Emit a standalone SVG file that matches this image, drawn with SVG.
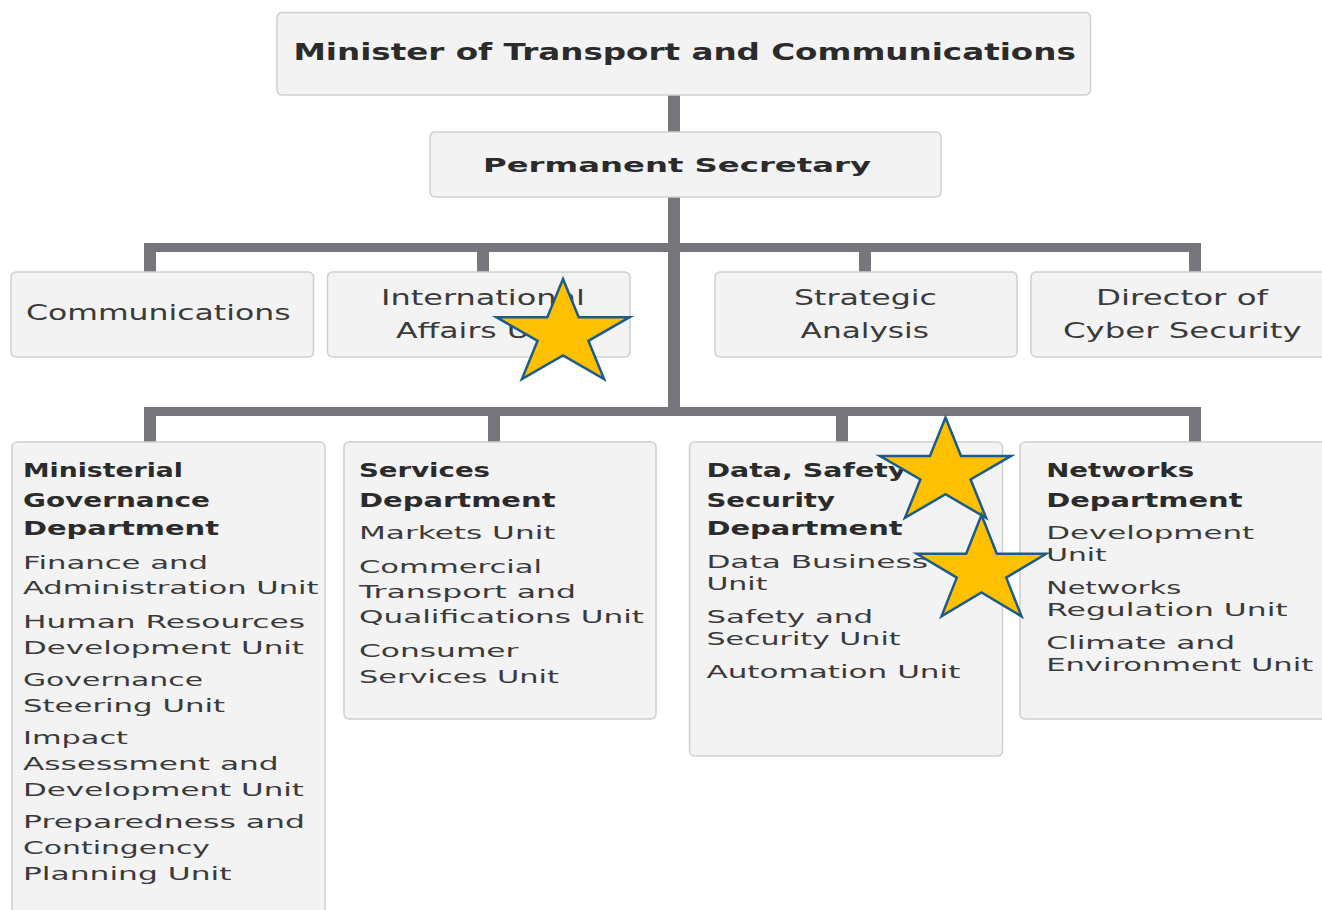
<svg xmlns="http://www.w3.org/2000/svg" width="1322" height="910" viewBox="0 0 1322 910">
<style>
.box{fill:#f3f3f3;stroke:#cfcfcf;stroke-width:1.5}
.con{fill:#76767c}
.t{font-family:"DejaVu Sans",Verdana,sans-serif;fill:#3a3a3a}
.b{font-weight:bold;fill:#2b2b2b}
.h1{font-size:23px}
.h2{font-size:20px}
.top{font-size:21px}
.r{font-size:17.5px}
.bb{font-size:19px}
.star{fill:#ffc000;stroke:#1d5c88;stroke-width:2.5;stroke-linejoin:miter}
</style>
<rect width="1322" height="910" fill="#ffffff"/>
<g id="connectors">
<rect class="con" x="668" y="95" width="12" height="37"/>
<rect class="con" x="668" y="197" width="12" height="219"/>
<rect class="con" x="144" y="243" width="1057" height="9"/>
<rect class="con" x="144" y="243" width="12" height="29"/>
<rect class="con" x="477" y="243" width="12" height="29"/>
<rect class="con" x="859" y="243" width="12" height="29"/>
<rect class="con" x="1189" y="243" width="12" height="29"/>
<rect class="con" x="144" y="407" width="1057" height="9"/>
<rect class="con" x="144" y="407" width="12" height="35"/>
<rect class="con" x="488" y="407" width="12" height="35"/>
<rect class="con" x="836" y="407" width="12" height="35"/>
<rect class="con" x="1189" y="407" width="12" height="35"/>
</g>
<g id="minister">
<rect class="box" x="277" y="12.5" width="813.5" height="82.5" rx="5"/>
<text class="t b h1" x="293.4" y="60" textLength="782.4" lengthAdjust="spacingAndGlyphs">Minister of Transport and Communications</text>
</g>
<g id="permanent-secretary">
<rect class="box" x="430" y="132" width="511" height="65" rx="5"/>
<text class="t b h2" x="483" y="172" textLength="388" lengthAdjust="spacingAndGlyphs">Permanent Secretary</text>
</g>
<g id="communications">
<rect class="box" x="11" y="272" width="302.5" height="85" rx="5"/>
<text class="t top" x="26" y="320" textLength="264.6" lengthAdjust="spacingAndGlyphs">Communications</text>
</g>
<g id="international-affairs">
<rect class="box" x="327.5" y="272" width="302.5" height="85" rx="5"/>
<text class="t top" x="381" y="305" textLength="204" lengthAdjust="spacingAndGlyphs">International</text>
<text class="t top" x="396" y="338" textLength="175" lengthAdjust="spacingAndGlyphs">Affairs Unit</text>
</g>
<g id="strategic-analysis">
<rect class="box" x="715" y="272" width="302" height="85" rx="5"/>
<text class="t top" x="794" y="305" textLength="143" lengthAdjust="spacingAndGlyphs">Strategic</text>
<text class="t top" x="800.6" y="338" textLength="128.4" lengthAdjust="spacingAndGlyphs">Analysis</text>
</g>
<g id="cyber-security">
<rect class="box" x="1031" y="272" width="302" height="85" rx="5"/>
<text class="t top" x="1096" y="305" textLength="172" lengthAdjust="spacingAndGlyphs">Director of</text>
<text class="t top" x="1063" y="338" textLength="238.6" lengthAdjust="spacingAndGlyphs">Cyber Security</text>
</g>
<g id="ministerial-governance">
<rect class="box" x="12" y="442" width="313" height="500" rx="5"/>
<text class="t b bb" x="23" y="477" textLength="160" lengthAdjust="spacingAndGlyphs">Ministerial</text>
<text class="t b bb" x="23" y="507" textLength="187" lengthAdjust="spacingAndGlyphs">Governance</text>
<text class="t b bb" x="23" y="535" textLength="196" lengthAdjust="spacingAndGlyphs">Department</text>
<text class="t r" x="23" y="568.5" textLength="185" lengthAdjust="spacingAndGlyphs">Finance and</text>
<text class="t r" x="23" y="594" textLength="295.6" lengthAdjust="spacingAndGlyphs">Administration Unit</text>
<text class="t r" x="23" y="628" textLength="282" lengthAdjust="spacingAndGlyphs">Human Resources</text>
<text class="t r" x="23" y="653.5" textLength="281" lengthAdjust="spacingAndGlyphs">Development Unit</text>
<text class="t r" x="23" y="686" textLength="180" lengthAdjust="spacingAndGlyphs">Governance</text>
<text class="t r" x="23" y="712" textLength="202" lengthAdjust="spacingAndGlyphs">Steering Unit</text>
<text class="t r" x="23" y="744" textLength="105" lengthAdjust="spacingAndGlyphs">Impact</text>
<text class="t r" x="23" y="770" textLength="255.6" lengthAdjust="spacingAndGlyphs">Assessment and</text>
<text class="t r" x="23" y="796" textLength="281" lengthAdjust="spacingAndGlyphs">Development Unit</text>
<text class="t r" x="23" y="828" textLength="282" lengthAdjust="spacingAndGlyphs">Preparedness and</text>
<text class="t r" x="23" y="854" textLength="187" lengthAdjust="spacingAndGlyphs">Contingency</text>
<text class="t r" x="23" y="880" textLength="208.5" lengthAdjust="spacingAndGlyphs">Planning Unit</text>
</g>
<g id="services">
<rect class="box" x="344" y="442" width="312" height="277" rx="5"/>
<text class="t b bb" x="359" y="477" textLength="131" lengthAdjust="spacingAndGlyphs">Services</text>
<text class="t b bb" x="359" y="507" textLength="196.5" lengthAdjust="spacingAndGlyphs">Department</text>
<text class="t r" x="359" y="539" textLength="196.5" lengthAdjust="spacingAndGlyphs">Markets Unit</text>
<text class="t r" x="359" y="573" textLength="183" lengthAdjust="spacingAndGlyphs">Commercial</text>
<text class="t r" x="359" y="598" textLength="217" lengthAdjust="spacingAndGlyphs">Transport and</text>
<text class="t r" x="359" y="623" textLength="285" lengthAdjust="spacingAndGlyphs">Qualifications Unit</text>
<text class="t r" x="359" y="657" textLength="159.5" lengthAdjust="spacingAndGlyphs">Consumer</text>
<text class="t r" x="359" y="683" textLength="200" lengthAdjust="spacingAndGlyphs">Services Unit</text>
</g>
<g id="data-safety-security">
<rect class="box" x="689.5" y="442" width="313" height="314" rx="5"/>
<text class="t b bb" x="706.4" y="477" textLength="200" lengthAdjust="spacingAndGlyphs">Data, Safety</text>
<text class="t b bb" x="706.4" y="507" textLength="128.6" lengthAdjust="spacingAndGlyphs">Security</text>
<text class="t b bb" x="706.4" y="535" textLength="196.3" lengthAdjust="spacingAndGlyphs">Department</text>
<text class="t r" x="706.4" y="568" textLength="221.6" lengthAdjust="spacingAndGlyphs">Data Business</text>
<text class="t r" x="706.4" y="590" textLength="61" lengthAdjust="spacingAndGlyphs">Unit</text>
<text class="t r" x="706.4" y="623" textLength="166.6" lengthAdjust="spacingAndGlyphs">Safety and</text>
<text class="t r" x="706.4" y="645" textLength="194.2" lengthAdjust="spacingAndGlyphs">Security Unit</text>
<text class="t r" x="706.4" y="678" textLength="254" lengthAdjust="spacingAndGlyphs">Automation Unit</text>
</g>
<g id="networks">
<rect class="box" x="1020" y="442" width="313" height="277" rx="5"/>
<text class="t b bb" x="1046.2" y="477" textLength="148" lengthAdjust="spacingAndGlyphs">Networks</text>
<text class="t b bb" x="1046.2" y="507" textLength="196.3" lengthAdjust="spacingAndGlyphs">Department</text>
<text class="t r" x="1046.2" y="539" textLength="208" lengthAdjust="spacingAndGlyphs">Development</text>
<text class="t r" x="1046.2" y="561" textLength="60.4" lengthAdjust="spacingAndGlyphs">Unit</text>
<text class="t r" x="1046.2" y="594" textLength="135" lengthAdjust="spacingAndGlyphs">Networks</text>
<text class="t r" x="1046.2" y="616" textLength="241.5" lengthAdjust="spacingAndGlyphs">Regulation Unit</text>
<text class="t r" x="1046.2" y="649" textLength="189" lengthAdjust="spacingAndGlyphs">Climate and</text>
<text class="t r" x="1046.2" y="671" textLength="267" lengthAdjust="spacingAndGlyphs">Environment Unit</text>
</g>
<g id="stars">
<polygon class="star" points="563,279 578.7,317.2 629.6,317.2 588.4,340.8 604.1,379 563,355.4 521.9,379 537.6,340.8 496.4,317.2 547.3,317.2"/>
<polygon class="star" points="945.5,417.5 961,455.9 1011.1,455.9 970.6,479.5 986.1,517.9 945.5,494.2 904.9,517.9 920.4,479.5 879.9,455.9 930,455.9"/>
<polygon class="star" points="981.5,515 996.8,553.7 1046.2,553.7 1006.2,577.6 1021.5,616.3 981.5,592.4 941.5,616.3 956.8,577.6 916.8,553.7 966.2,553.7"/>
</g>
</svg>
